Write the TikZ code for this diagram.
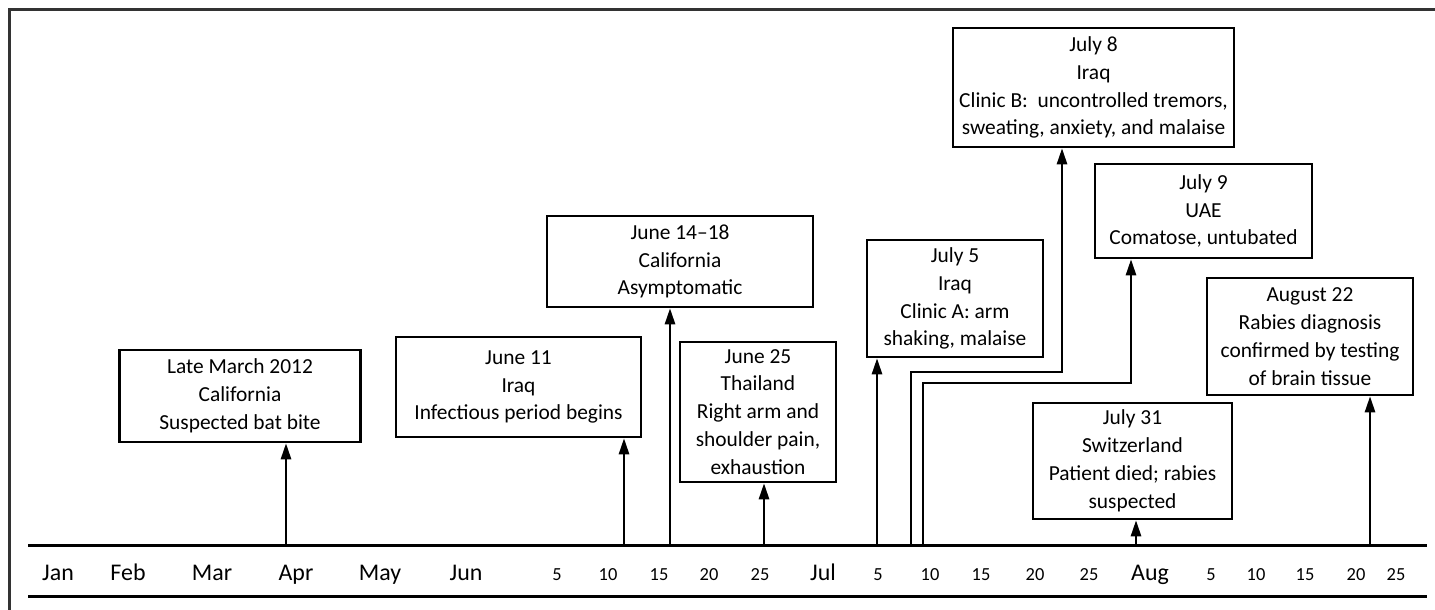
\documentclass[tikz,border=0pt]{standalone}
\usepackage{fontspec}
\setmainfont{Carlito}
\usetikzlibrary{arrows.meta}

\begin{document}
\begin{tikzpicture}[x=1bp, y=-1bp,
  evbox/.style={draw, line width=2.5bp, align=center, inner sep=0pt, font=\fontsize{21.5}{28}\selectfont},
  uparrow/.style={line width=2.5bp, -{Triangle[length=16bp, width=10bp]}},
  monthlbl/.style={anchor=base, font=\fontsize{24}{28}\selectfont},
  daylbl/.style={anchor=base, font=\fontsize{18.5}{22}\selectfont}]
\useasboundingbox (0,0) rectangle (1435,610);

% frame
\draw[line width=3bp, black!80] (1435,10) -- (9,10) -- (9,610);

% time line
\draw[line width=3bp] (28,545) -- (1427,545);
\draw[line width=3bp] (28,596) -- (1427,596);
\foreach \x/\t in {58/Jan, 128/Feb, 212/Mar, 296/Apr, 380/May, 466/Jun, 823/Jul, 1150/Aug}
  \node[monthlbl] (m-\t) at (\x,580) {\t};
\foreach \x/\t [count=\i] in {557/5, 608/10, 659/15, 709/20, 760/25, 878/5, 930/10, 981/15, 1035/20, 1089/25, 1211/5, 1256/10, 1305/15, 1356/20, 1396/25}
  \node[daylbl] (d-\i) at (\x,580) {\t};

% events
\node[evbox, minimum width=241bp, minimum height=92bp] (late) at (240,396) {Late March 2012\\California\\Suspected bat bite};
\node[evbox, minimum width=245bp, minimum height=100bp] (jun11) at (518.5,387) {June 11\\Iraq\\Infectious period begins};
\node[evbox, minimum width=266bp, minimum height=91bp] (jun14) at (680,261.5) {June 14--18\\California\\Asymptomatic};
\node[evbox, minimum width=156bp, minimum height=140bp] (jun25) at (758,412) {June 25\\Thailand\\Right arm and\\shoulder pain,\\exhaustion};
\node[evbox, minimum width=176bp, minimum height=117bp] (jul5) at (955,298.5) {July 5\\Iraq\\Clinic A: arm\\shaking, malaise};
\node[evbox, minimum width=281bp, minimum height=119bp] (jul8) at (1093.5,87.5) {July 8\\Iraq\\Clinic B:\ \ uncontrolled tremors,\\sweating, anxiety, and malaise};
\node[evbox, minimum width=217bp, minimum height=94bp] (jul9) at (1203.5,211) {July 9\\UAE\\Comatose, untubated};
\node[evbox, minimum width=199bp, minimum height=116bp] (jul31) at (1132.5,461) {July 31\\Switzerland\\Patient died; rabies\\suspected};
\node[evbox, minimum width=206bp, minimum height=117bp] (aug22) at (1310,336.5) {August 22\\Rabies diagnosis\\confirmed by testing\\of brain tissue};

% points on the time line
\coordinate (t-late) at (286,545);
\coordinate (t-jun11) at (624,545);
\coordinate (t-jun14) at (670,545);
\coordinate (t-jun25) at (764,545);
\coordinate (t-jul5) at (877,545);
\coordinate (t-jul8) at (911,545);
\coordinate (t-jul9) at (923,545);
\coordinate (t-jul31) at (1136,545);
\coordinate (t-aug22) at (1370,545);
\coordinate (b-jul8) at (1062,372);
\coordinate (b-jul9) at (1131,383);

\draw[uparrow] (t-late) -- (t-late |- late.south);
\draw[uparrow] (t-jun11) -- (t-jun11 |- jun11.south);
\draw[uparrow] (t-jun14) -- (t-jun14 |- jun14.south);
\draw[uparrow] (t-jun25) -- (t-jun25 |- jun25.south);
\draw[uparrow] (t-jul5) -- (t-jul5 |- jul5.south);
\draw[uparrow] (t-jul8) |- (b-jul8) -- (b-jul8 |- jul8.south);
\draw[uparrow] (t-jul9) |- (b-jul9) -- (b-jul9 |- jul9.south);
\draw[uparrow] (t-jul31) -- (t-jul31 |- jul31.south);
\draw[uparrow] (t-aug22) -- (t-aug22 |- aug22.south);

\end{tikzpicture}
\end{document}
